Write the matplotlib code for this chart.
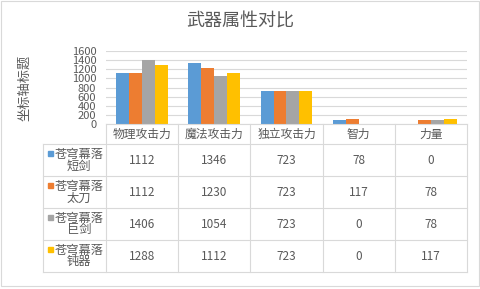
import matplotlib
matplotlib.use("Agg")
from matplotlib import pyplot as plt
from matplotlib.lines import Line2D
from matplotlib.patches import Rectangle
import numpy as np

plt.rcParams['font.family'] = ['Noto Sans CJK SC', 'DejaVu Sans']

title = "武器属性对比"
y_label = "坐标轴标题"
categories = ["物理攻击力", "魔法攻击力", "独立攻击力", "智力", "力量"]
series_names = ["苍穹幕落\n短剑", "苍穹幕落\n太刀", "苍穹幕落\n巨剑", "苍穹幕落\n钝器"]
short_sword = [1112, 1346, 723, 78, 0]
katana = [1112, 1230, 723, 117, 78]
great_sword = [1406, 1054, 723, 0, 78]
blunt = [1288, 1112, 723, 0, 117]
series_values = [short_sword, katana, great_sword, blunt]
y_ticks = [0, 200, 400, 600, 800, 1000, 1200, 1400, 1600]

colors = ["#5B9BD5", "#ED7D31", "#A5A5A5", "#FFC000"]
text_c = "#595959"
line_c = "#D9D9D9"

W, H = 481, 289
fig = plt.figure(figsize=(W / 100, H / 100), dpi=100)

def fx(px):
    return px / W

def fy(py):
    return 1 - py / H

# plot area in pixels
left, right, top, bottom = 106, 467, 51, 124
ax = fig.add_axes([fx(left), fy(bottom), fx(right - left), (bottom - top) / H])
n_cat = len(categories)
x = np.arange(n_cat)
bw = 0.18
for i, vals in enumerate(series_values):
    ax.bar(x + (i - 1.5) * bw, vals, width=bw, color=colors[i], zorder=3)
ax.set_xlim(-0.5, n_cat - 0.5)
ax.set_ylim(0, 1600)
ax.set_yticks(y_ticks)
ax.tick_params(axis='y', length=0, labelsize=8, labelcolor=text_c, pad=7)
ax.set_xticks([])
ax.grid(axis='y', color=line_c, linewidth=0.8, zorder=0)
for s in ax.spines.values():
    s.set_visible(False)
ax.patch.set_alpha(0)

fig.text(fx(240), fy(22), title, ha='center', va='center', fontsize=13, color=text_c)
fig.text(fx(25), fy(88), y_label, ha='center', va='center', fontsize=9.5,
         color=text_c, rotation=90)

# data table
col_x = [left + (right - left) * k / n_cat for k in range(n_cat + 1)]
row_y = [124, 144, 176, 208, 240, 272]
leg_left = 43

def hline(x0, x1, y):
    fig.add_artist(Line2D([fx(x0), fx(x1)], [fy(y), fy(y)], color=line_c, lw=0.8))

def vline(x, y0, y1):
    fig.add_artist(Line2D([fx(x), fx(x)], [fy(y0), fy(y1)], color=line_c, lw=0.8))

hline(left, right, row_y[0])
for y in row_y[1:]:
    hline(leg_left, right, y)
for cx in col_x:
    vline(cx, row_y[0], row_y[-1])
vline(leg_left, row_y[1], row_y[-1])

for k, cat in enumerate(categories):
    cxm = (col_x[k] + col_x[k + 1]) / 2
    fig.text(fx(cxm), fy(134), cat, ha='center', va='center', fontsize=8.5, color=text_c)

for i, vals in enumerate(series_values):
    ym = (row_y[i + 1] + row_y[i + 2]) / 2
    for k, v in enumerate(vals):
        cxm = (col_x[k] + col_x[k + 1]) / 2
        fig.text(fx(cxm), fy(ym), str(v), ha='center', va='center', fontsize=8.5, color=text_c)
    l1, l2 = series_names[i].split("\n")
    fig.text(fx(79), fy(ym - 6), l1, ha='center', va='center', fontsize=8.8, color=text_c)
    fig.text(fx(79), fy(ym + 6), l2, ha='center', va='center', fontsize=8.8, color=text_c)
    fig.add_artist(Rectangle((fx(48), fy(ym - 4)), fx(5), 5 / H, color=colors[i]))

fig.add_artist(Rectangle((fx(1), fy(286)), fx(478), 285 / H, fill=False,
                         edgecolor=line_c, lw=0.8))

fig.savefig("out.png", dpi=100)
